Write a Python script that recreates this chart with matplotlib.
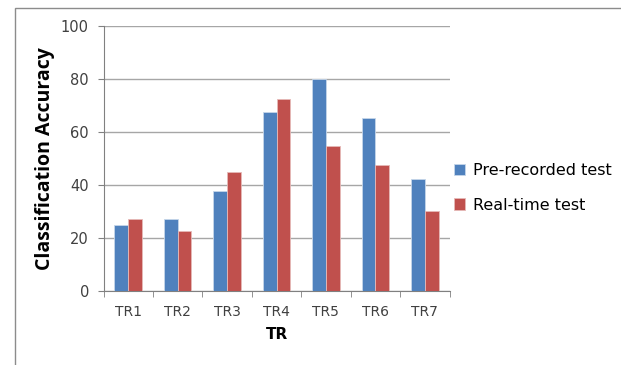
import numpy as np
import matplotlib.pyplot as plt
from matplotlib.patches import Rectangle

categories = ["TR1", "TR2", "TR3", "TR4", "TR5", "TR6", "TR7"]
prerecorded = [25.0, 27.3, 37.7, 67.4, 80.0, 65.2, 42.4]
realtime = [27.3, 22.6, 44.8, 72.3, 54.7, 47.7, 30.2]

blue = "#4F81BD"
red = "#C0504D"
grid_gray = "#A6A6A6"
text_col = "#404040"

fig = plt.figure(figsize=(6.21, 3.65), dpi=100)
ax = fig.add_axes([103.5 / 621, 0.2027, 346 / 621, 0.7261])

# outer chart-area border (runs off the right and bottom edges)
fig.patches.append(Rectangle((15 / 621, -0.1), 1.2, 1.1 - 8 / 365,
                             transform=fig.transFigure, fill=False,
                             edgecolor="#8C8C8C", linewidth=1.0))

x = np.arange(len(categories))
w = 0.28
ax.bar(x - w / 2, prerecorded, w, color=blue, edgecolor="#C6D6EA",
       linewidth=0.6, label="Pre-recorded test", zorder=3)
ax.bar(x + w / 2, realtime, w, color=red, edgecolor="#E6B9B8",
       linewidth=0.6, label="Real-time test", zorder=3)

ax.set_xlim(-0.5, len(categories) - 0.5)
ax.set_ylim(0, 100)
ax.set_yticks(np.arange(0, 101, 20))
ax.set_xticks(x)
ax.set_xticklabels(categories)
ax.set_xticks(np.arange(-0.5, len(categories), 1), minor=True)
ax.tick_params(axis="x", which="major", length=0, pad=10,
               labelsize=10, labelcolor=text_col)
ax.tick_params(axis="x", which="minor", length=4.5, color="#808080",
               direction="out")
ax.tick_params(axis="y", length=4.5, color="#808080", labelsize=10.5,
               labelcolor=text_col, pad=6)

ax.yaxis.grid(True, color=grid_gray, linewidth=1.0, zorder=0)
for s in ["top", "right"]:
    ax.spines[s].set_visible(False)
ax.spines["left"].set_color("#808080")
ax.spines["bottom"].set_color("#808080")

ax.set_ylabel("Classification Accuracy", fontsize=14, fontweight="bold",
              family="Open Sans")
ax.yaxis.set_label_coords(-0.14, 0.5)
ax.set_xlabel("TR", fontsize=11, fontweight="bold", labelpad=6)

fig.legend(loc="center left", bbox_to_anchor=(454 / 621, 1 - 188 / 365),
           frameon=False, fontsize=11.5, handlelength=0.7, handleheight=0.7,
           handletextpad=0.5, labelspacing=1.2, borderpad=0, borderaxespad=0)

fig.savefig("out.png", dpi=100)
